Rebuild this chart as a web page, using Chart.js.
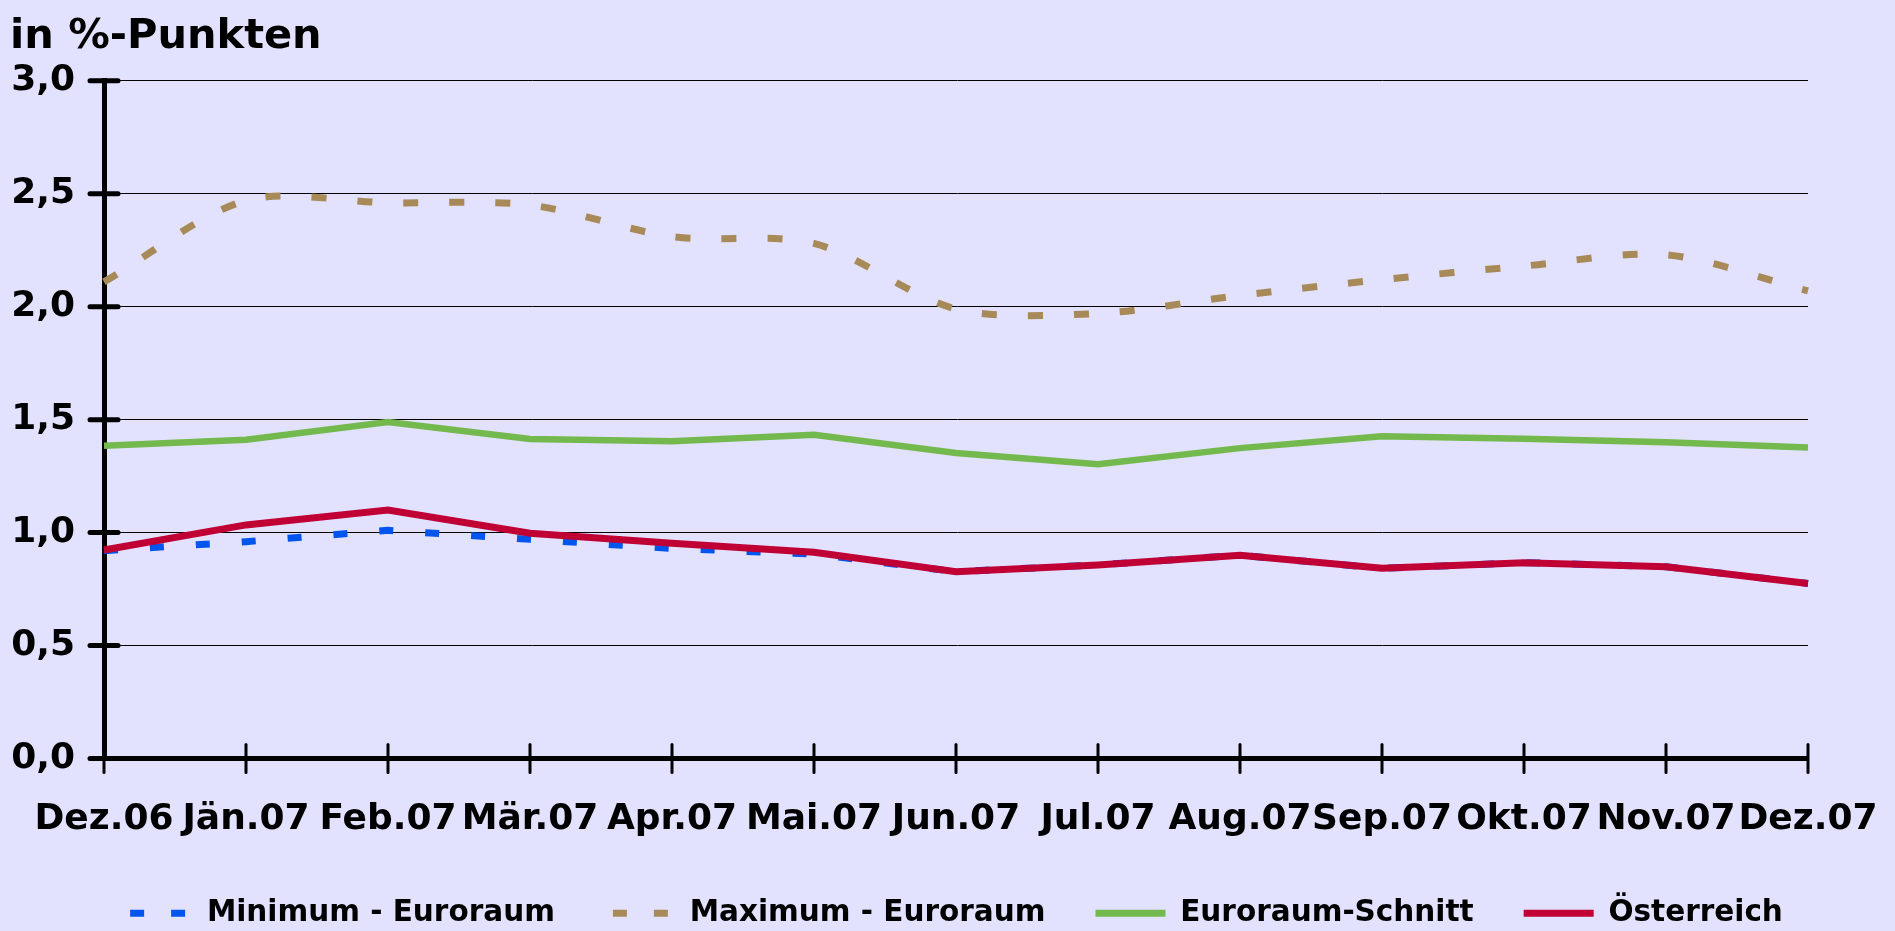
<!DOCTYPE html>
<html>
<head>
<meta charset="utf-8">
<script src="https://cdn.jsdelivr.net/npm/chart.js@4.4.1/dist/chart.umd.min.js"></script>
<style>
  html, body { margin: 0; padding: 0; background: #E2E2FE; }
  #wrap { width: 1895px; height: 931px; position: relative; }
</style>
</head>
<body>
<div id="wrap"><canvas id="c" width="1895" height="931"></canvas></div>
<script>
const categories = ['Dez.06','Jän.07','Feb.07','Mär.07','Apr.07','Mai.07','Jun.07','Jul.07','Aug.07','Sep.07','Okt.07','Nov.07','Dez.07'];
const minimumEuroraum = [0.92, 0.96, 1.01, 0.97, 0.93, 0.905, 0.827, 0.857, 0.90, 0.842, 0.867, 0.849, 0.775];
const maximumEuroraum = [2.11, 2.47, 2.46, 2.45, 2.31, 2.28, 1.99, 1.97, 2.05, 2.12, 2.18, 2.23, 2.07];
const euroraumSchnitt = [1.385, 1.411, 1.49, 1.414, 1.404, 1.433, 1.352, 1.303, 1.374, 1.426, 1.416, 1.40, 1.377];
const oesterreich = [0.923, 1.034, 1.10, 0.997, 0.953, 0.913, 0.827, 0.857, 0.90, 0.842, 0.867, 0.849, 0.775];
const yTickLabels = ['0,0','0,5','1,0','1,5','2,0','2,5','3,0'];

const FONT = '"DejaVu Sans", sans-serif';

const crossTicks = {
  id: 'crossTicks',
  afterLayout(chart) {
    // let the x tick labels draw below the (shortened) axis box without being clipped
    chart.scales.x.bottom = chart.height;
  },
  afterDatasetsDraw(chart) {
    const ctx = chart.ctx;
    const x = chart.scales.x, y = chart.scales.y;
    ctx.save();
    ctx.strokeStyle = '#000';
    ctx.lineCap = 'round';
    ctx.lineWidth = 5;
    y.ticks.forEach((t, i) => {
      const py = y.getPixelForTick(i);
      ctx.beginPath();
      ctx.moveTo(x.left - 14, py);
      ctx.lineTo(x.left + 14, py);
      ctx.stroke();
    });
    ctx.lineWidth = 3;
    x.ticks.forEach((t, i) => {
      const px = x.getPixelForTick(i);
      ctx.beginPath();
      ctx.moveTo(px, y.bottom - 14);
      ctx.lineTo(px, y.bottom + 14);
      ctx.stroke();
    });
    ctx.restore();
  }
};

const bg = {
  id: 'bg',
  beforeDraw(chart) {
    const ctx = chart.ctx;
    ctx.save();
    ctx.fillStyle = '#E2E2FE';
    ctx.fillRect(0, 0, chart.width, chart.height);
    ctx.restore();
  }
};

new Chart(document.getElementById('c'), {
  type: 'line',
  data: {
    labels: categories,
    datasets: [
      { label: 'Minimum - Euroraum', data: minimumEuroraum, borderColor: '#0055EE', backgroundColor: '#0055EE',
        borderWidth: 7, borderDash: [14, 32], borderCapStyle: 'butt', tension: 0, order: 4 },
      { label: 'Maximum - Euroraum', data: maximumEuroraum, borderColor: '#A88A58', backgroundColor: '#A88A58',
        borderWidth: 7, borderDash: [15, 31], borderCapStyle: 'butt', tension: 0.3, order: 3 },
      { label: 'Euroraum-Schnitt', data: euroraumSchnitt, borderColor: '#74B94D', backgroundColor: '#74B94D',
        borderWidth: 6.5, tension: 0, order: 2 },
      { label: 'Österreich', data: oesterreich, borderColor: '#C00035', backgroundColor: '#C00035',
        borderWidth: 7, tension: 0, order: 1 }
    ]
  },
  options: {
    responsive: false,
    animation: false,
    devicePixelRatio: 1,
    elements: { point: { radius: 0, hoverRadius: 0 }, line: { borderJoinStyle: 'miter' } },
    layout: { padding: { left: 10, right: 0, top: 4, bottom: -7 } },
    plugins: {
      tooltip: { enabled: false },
      title: {
        display: true, text: 'in %-Punkten', align: 'start', color: '#000',
        font: { family: FONT, size: 41.5, weight: 'bold' },
        padding: { top: 8, bottom: 19 }
      },
      legend: {
        position: 'bottom',
        labels: {
          color: '#000',
          font: { family: FONT, size: 29.5, weight: 'bold' },
          usePointStyle: true, pointStyle: 'line', pointStyleWidth: 70, boxWidth: 70, boxHeight: 8,
          padding: 50,
          generateLabels: (chart) => chart.data.datasets.map((ds, i) => ({
            text: ds.label,
            fillStyle: ds.borderColor,
            strokeStyle: ds.borderColor,
            fontColor: '#000',
            lineWidth: 7,
            lineCap: 'butt',
            lineDash: ds.borderDash ? [14, 27] : [],
            lineDashOffset: -8,
            pointStyle: 'line',
            hidden: false,
            datasetIndex: i
          }))
        }
      }
    },
    scales: {
      x: {
        type: 'category',
        offset: false,
        border: { display: true, color: '#000', width: 5 },
        grid: { display: true, drawOnChartArea: false, drawTicks: false },
        ticks: { color: '#000', font: { family: FONT, size: 36, weight: 'bold' }, padding: 40,
          autoSkip: false, maxRotation: 0, minRotation: 0 },
        afterFit: (scale) => { scale.height = 90; scale.paddingLeft = 0; scale.paddingRight = 87; }
      },
      y: {
        min: 0, max: 3,
        border: { display: true, color: '#000', width: 5 },
        grid: { color: '#000', lineWidth: 1, drawTicks: false },
        ticks: { stepSize: 0.5, color: '#000', font: { family: FONT, size: 36, weight: 'bold' }, padding: 29,
          callback: (v, i) => yTickLabels[i] },
        afterFit: (scale) => { scale.width = 94; }
      }
    }
  },
  plugins: [bg, crossTicks]
});
</script>
</body>
</html>
